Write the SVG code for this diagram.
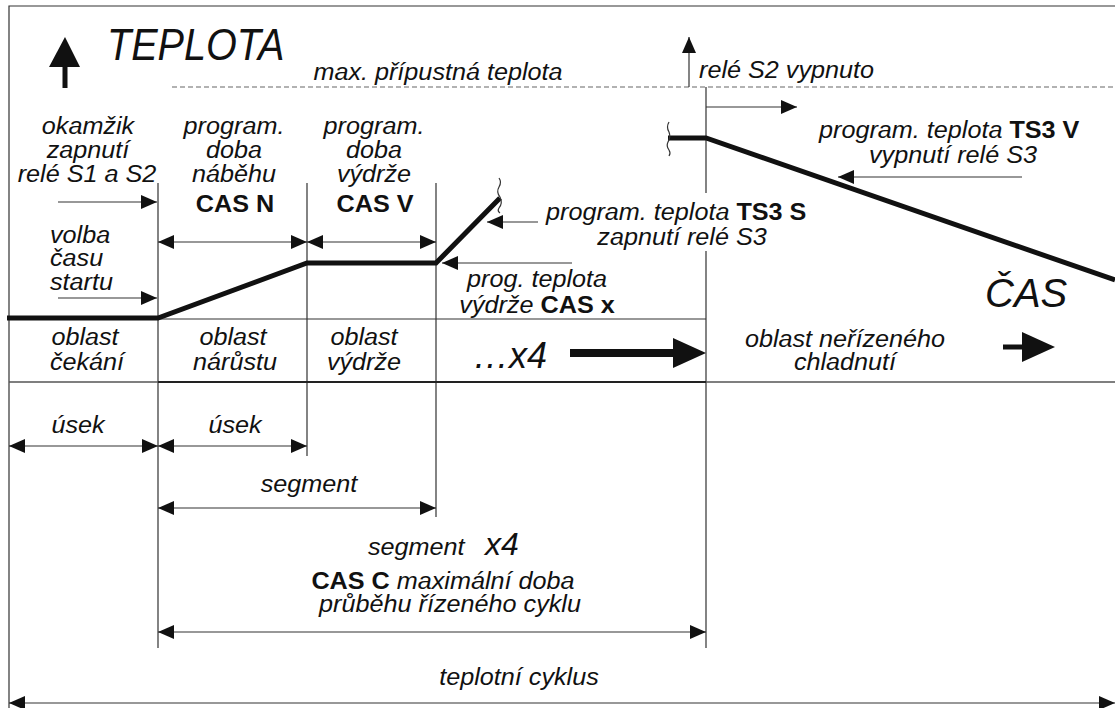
<svg xmlns="http://www.w3.org/2000/svg" width="1115" height="708" viewBox="0 0 1115 708">
<defs>
<marker id="ah" markerUnits="userSpaceOnUse" markerWidth="16" markerHeight="16" viewBox="0 0 16 16" refX="16" refY="8" orient="auto-start-reverse">
<path d="M0,1 L16,8 L0,15 z" fill="#111"/>
</marker>
<style>
.t{font-family:"Liberation Sans",Arial,sans-serif;font-size:24px;font-style:italic;fill:#111}
.m{text-anchor:middle}
.b{font-weight:bold;font-style:normal}
.ln{stroke:#333;stroke-width:1.2;fill:none}
.ar{stroke:#333;stroke-width:1.2;fill:none;marker-end:url(#ah)}
.da{stroke:#333;stroke-width:1.2;fill:none;marker-start:url(#ah);marker-end:url(#ah)}
.thick{stroke:#111;stroke-width:5;fill:none;stroke-linejoin:miter}
</style>
</defs>
<rect width="1115" height="708" fill="#fff"/>

<g id="frame">
<path class="ln" d="M9,708 V6 H1115"/>
<path d="M172,87 H1115" stroke="#666" stroke-width="1.2" stroke-dasharray="5 3"/>
<path class="ln" d="M158,183 V648 M307,183 V456 M436,183 V517 M706,87 V648"/>
<path class="ln" d="M158,319 H706"/>
<path d="M9,382 H1115" stroke="#555" stroke-width="1.5"/>
<path d="M158,382 H706" stroke="#222" stroke-width="2.2"/>
</g>

<g id="curve">
<path class="thick" d="M7,318 H158 L307,263 H436 L500,198"/>
<path class="thick" d="M668,138 H706 L1115,280"/>
<path class="ln" d="M499,178 q3,4 0,9 q-3,5 1,10 q3,6 -1,11 q-2,3 1,5"/>
<path class="ln" d="M669,122 q-3,5 0,10 q2,5 -1,10 q-2,4 1,8 q2,3 0,6"/>
</g>

<g id="connectors">
<path class="ar" d="M58,202 H157"/>
<path class="ar" d="M58,298 H157"/>
<path class="da" d="M158,242 H307"/>
<path class="da" d="M307,242 H436"/>
<path class="ar" d="M538,222 H487"/>
<path class="ar" d="M572,263 H442"/>
<path class="ar" d="M706,107 H797"/>
<path class="ar" d="M1022,177 H838"/>
<path class="ar" d="M689,87 V37"/>
<path class="da" d="M9,446 H158"/>
<path class="da" d="M158,446 H307"/>
<path class="da" d="M158,508 H436"/>
<path class="da" d="M158,632 H706"/>
<path class="da" d="M9,703 H1115"/>
</g>

<g id="big-arrows" fill="#111">
<path d="M49,67 L65,37 L80,67 z"/>
<rect x="62.5" y="66" width="5" height="22"/>
<rect x="570" y="349" width="106" height="8"/>
<path d="M673,338 L706,353 L673,368 z"/>
<rect x="1003" y="344.5" width="22" height="5"/>
<path d="M1022,332 L1055,347 L1022,362 z"/>
</g>

<g id="axis-labels">
<text class="t" style="font-size:44px" transform="translate(107,60) scale(0.9,1)">TEPLOTA</text>
<text class="t" style="font-size:40px" x="985" y="307">ČAS</text>
<text class="t" transform="translate(438,80) scale(1.05,1)" text-anchor="middle">max. přípustná teplota</text>
<text class="t" transform="translate(699,78) scale(1.05,1)">relé S2 vypnuto</text>
</g>

<g id="n-okamzik">
<text class="t m" transform="translate(88,134) scale(1.05,1)">okamžik</text>
<text class="t m" transform="translate(88,158) scale(1.05,1)">zapnutí</text>
<text class="t m" transform="translate(87,182) scale(1.05,1)">relé S1 a S2</text>
</g>
<g id="n-volba">
<text class="t" transform="translate(50,243) scale(1.05,1)">volba</text>
<text class="t" transform="translate(50,266) scale(1.05,1)">času</text>
<text class="t" transform="translate(50,290) scale(1.05,1)">startu</text>
</g>
<g id="n-nabeh">
<text class="t m" transform="translate(234,134) scale(1.05,1)">program.</text>
<text class="t m" transform="translate(234,158) scale(1.05,1)">doba</text>
<text class="t m" transform="translate(234,182) scale(1.05,1)">náběhu</text>
<text class="t m b" transform="translate(235,212) scale(1.05,1)">CAS N</text>
</g>
<g id="n-vydrz">
<text class="t m" transform="translate(374,134) scale(1.05,1)">program.</text>
<text class="t m" transform="translate(374,158) scale(1.05,1)">doba</text>
<text class="t m" transform="translate(374,182) scale(1.05,1)">výdrže</text>
<text class="t m b" transform="translate(375,212) scale(1.05,1)">CAS V</text>
</g>
<g id="n-ts3s">
<rect x="542" y="193" width="280" height="58" fill="#fff"/>
<text class="t" transform="translate(546,220) scale(1.05,1)">program. teplota <tspan class="b">TS3 S</tspan></text>
<text class="t m" transform="translate(682,245) scale(1.05,1)">zapnutí relé S3</text>
</g>
<g id="n-casx">
<text class="t m" transform="translate(537,287) scale(1.05,1)">prog. teplota</text>
<text class="t m" transform="translate(537,313) scale(1.05,1)">výdrže <tspan class="b">CAS x</tspan></text>
</g>
<g id="n-ts3v">
<text class="t" transform="translate(819,138) scale(1.05,1)">program. teplota <tspan class="b">TS3 V</tspan></text>
<text class="t m" transform="translate(953,163) scale(1.05,1)">vypnutí relé S3</text>
</g>

<g id="n-oblasti">
<text class="t m" transform="translate(85,345) scale(1.05,1)">oblast</text>
<text class="t m" transform="translate(87,370) scale(1.05,1)">čekání</text>
<text class="t m" transform="translate(233,345) scale(1.05,1)">oblast</text>
<text class="t m" transform="translate(235,370) scale(1.05,1)">nárůstu</text>
<text class="t m" transform="translate(364,345) scale(1.05,1)">oblast</text>
<text class="t m" transform="translate(364,370) scale(1.05,1)">výdrže</text>
<text class="t" style="font-size:36px" x="473" y="368">…x4</text>
<text class="t m" transform="translate(845,347) scale(1.05,1)">oblast neřízeného</text>
<text class="t m" transform="translate(845,370) scale(1.05,1)">chladnutí</text>
</g>

<g id="n-useky">
<text class="t m" transform="translate(78,433) scale(1.05,1)">úsek</text>
<text class="t m" transform="translate(235,433) scale(1.05,1)">úsek</text>
<text class="t m" transform="translate(309,492) scale(1.05,1)">segment</text>
<text class="t" transform="translate(368,555) scale(1.05,1)">segment</text>
<text class="t" style="font-size:32px" x="485" y="555">x4</text>
<text class="t m" transform="translate(443,589) scale(1.05,1)"><tspan class="b">CAS C</tspan> maximální doba</text>
<text class="t m" transform="translate(450,612) scale(1.05,1)">průběhu řízeného cyklu</text>
<text class="t m" transform="translate(519,685) scale(1.05,1)">teplotní cyklus</text>
</g>
</svg>
